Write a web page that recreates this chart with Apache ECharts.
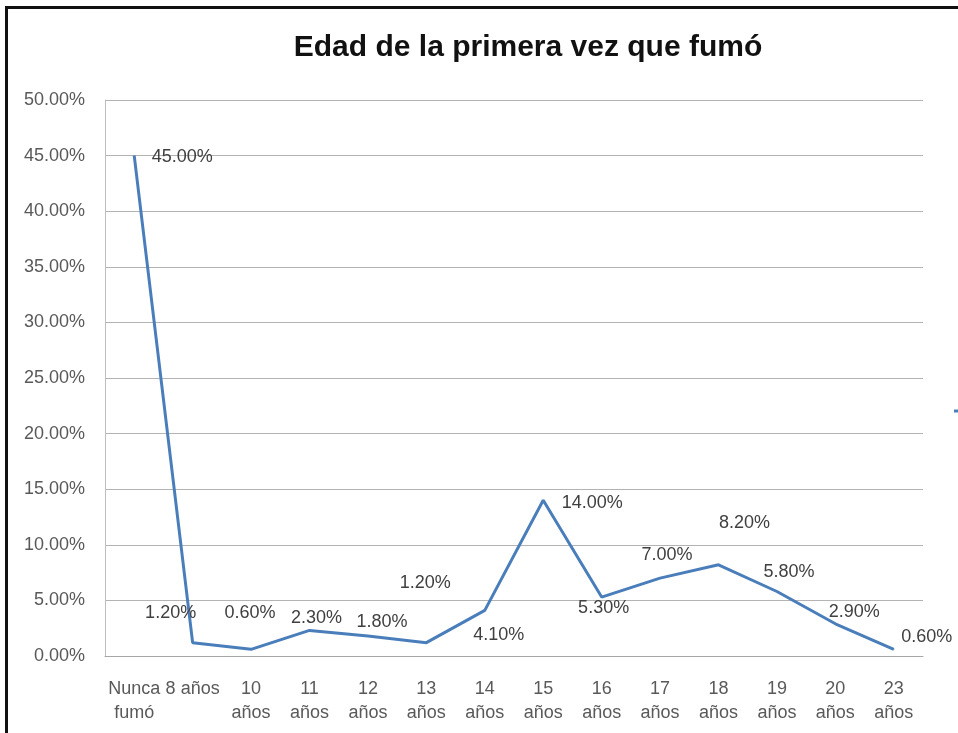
<!DOCTYPE html>
<html>
<head>
<meta charset="utf-8">
<script src="https://cdn.jsdelivr.net/npm/echarts@6/dist/echarts.min.js"></script>
<style>
  html, body { margin: 0; padding: 0; background: #fff; }
  #chart { width: 958px; height: 733px; }
  .frame {
    position: absolute;
    left: 5px;
    top: 6px;
    width: 960px;
    height: 740px;
    border-left: 3px solid #111;
    border-top: 3px solid #111;
    pointer-events: none;
  }
</style>
</head>
<body>
<div id="chart"></div>
<div class="frame"></div>
<script>
const titleText = 'Edad de la primera vez que fumó'
const categories = ['Nunca\nfumó', '8 años', '10\naños', '11\naños', '12\naños', '13\naños', '14\naños',
  '15\naños', '16\naños', '17\naños', '18\naños', '19\naños', '20\naños', '23\naños']
const percentages = [45.0, 1.2, 0.6, 2.3, 1.8, 1.2, 4.1, 14.0, 5.3, 7.0, 8.2, 5.8, 2.9, 0.6]
const yTicks = [0, 50, 5] // min, max, step

// hand placed label offsets, like the moved labels of the original
const labelOffsets = [[48, 1], [-22, -30], [-1, -36], [7, -12], [14, -14], [-1, -60], [14, 25],
  [49, 3], [2, 11], [7, -23], [26, -42], [12, -19], [19, -12], [33, -12]]

const lineColor = '#4a7ebb'
const font = '"Liberation Sans", Arial, sans-serif'

const chart = echarts.init(document.getElementById('chart'), null, { renderer: 'canvas' })

chart.setOption({
  animation: false,
  title: {
    text: titleText,
    left: 523,
    top: 28,
    textAlign: 'center',
    textStyle: { fontFamily: font, fontSize: 30, fontWeight: 'bold', color: '#111' }
  },
  // only the start of the legend key shows at the right edge, as in the original
  legend: {
    left: 954,
    top: 404,
    padding: 0,
    icon: 'rect',
    itemWidth: 20,
    itemHeight: 3,
    data: ['Serie1'],
    textStyle: { fontSize: 14 }
  },
  grid: { left: 105, right: 35, top: 100, bottom: 77 },
  xAxis: {
    type: 'category',
    data: categories,
    boundaryGap: true,
    axisLine: { lineStyle: { color: '#a6a6a6', width: 1 } },
    axisTick: { show: false },
    axisLabel: {
      interval: 0,
      margin: 21,
      lineHeight: 24,
      fontFamily: font,
      fontSize: 18,
      color: '#595959'
    }
  },
  yAxis: {
    type: 'value',
    min: yTicks[0],
    max: yTicks[1],
    interval: yTicks[2],
    axisLine: { show: true, lineStyle: { color: '#bdbdbd', width: 1 } },
    axisTick: { show: false },
    splitLine: { lineStyle: { color: '#b3b3b3', width: 1 } },
    axisLabel: {
      margin: 20,
      fontFamily: font,
      fontSize: 18,
      color: '#595959',
      formatter: v => v.toFixed(2) + '%'
    }
  },
  series: [{
    name: 'Serie1',
    type: 'line',
    data: percentages.map((v, i) => ({
      value: v,
      label: { offset: labelOffsets[i] }
    })),
    showSymbol: true,
    symbol: 'circle',
    symbolSize: 1,
    itemStyle: { color: lineColor },
    lineStyle: { color: lineColor, width: 3 },
    label: {
      show: true,
      position: 'inside',
      fontFamily: font,
      fontSize: 18,
      color: '#404040',
      formatter: p => p.value.toFixed(2) + '%'
    }
  }]
})
</script>
</body>
</html>
